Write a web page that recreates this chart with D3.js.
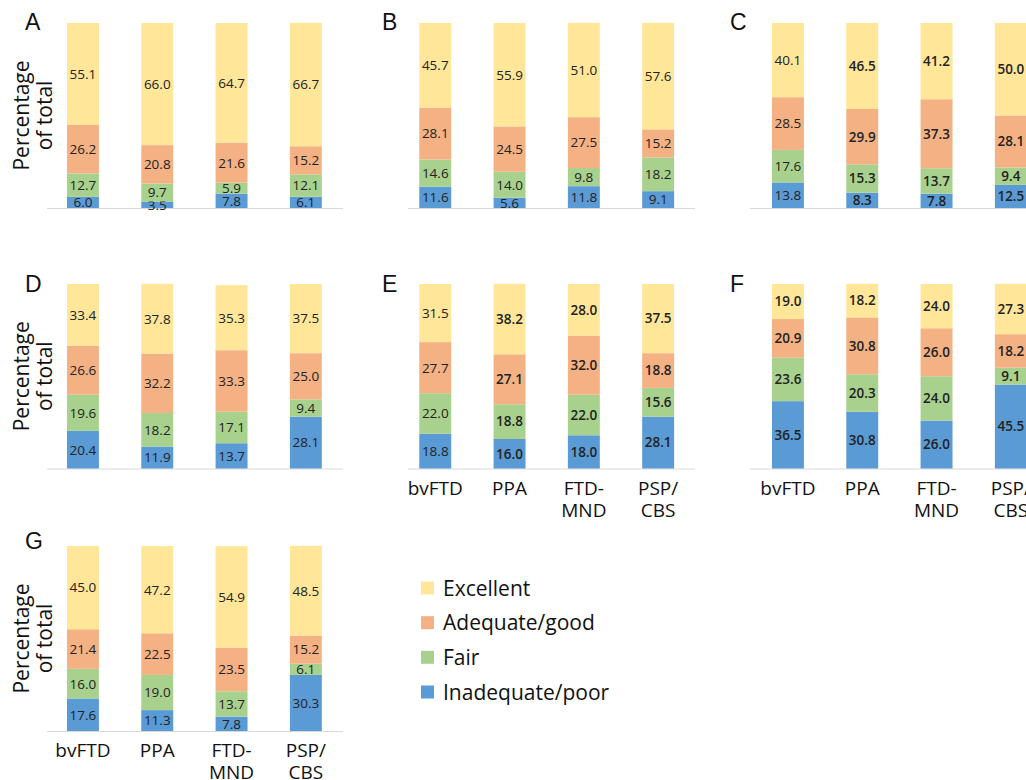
<!DOCTYPE html>
<html>
<head>
<meta charset="utf-8">
<script src="https://cdn.jsdelivr.net/npm/d3@7"></script>
<style>
  html, body { margin: 0; padding: 0; background: #fff; }
  svg { display: block; font-family: "Open Sans", sans-serif; }
</style>
</head>
<body>
<svg id="chart" width="1026" height="780"></svg>
<script>
// ---- data ----
const panels = ["A", "B", "C", "D", "E", "F", "G"];
const categories = ["bvFTD", "PPA", "FTD-MND", "PSP/CBS"];
const categoryLabelLines = [["bvFTD"], ["PPA"], ["FTD-", "MND"], ["PSP/", "CBS"]];
const seriesNames = ["Excellent", "Adequate/good", "Fair", "Inadequate/poor"];
// values per panel (A..G), per category (bvFTD, PPA, FTD-MND, PSP/CBS)
const excellent = [
  [55.1, 66.0, 64.7, 66.7],
  [45.7, 55.9, 51.0, 57.6],
  [40.1, 46.5, 41.2, 50.0],
  [33.4, 37.8, 35.3, 37.5],
  [31.5, 38.2, 28.0, 37.5],
  [19.0, 18.2, 24.0, 27.3],
  [45.0, 47.2, 54.9, 48.5]
];
const adequate = [
  [26.2, 20.8, 21.6, 15.2],
  [28.1, 24.5, 27.5, 15.2],
  [28.5, 29.9, 37.3, 28.1],
  [26.6, 32.2, 33.3, 25.0],
  [27.7, 27.1, 32.0, 18.8],
  [20.9, 30.8, 26.0, 18.2],
  [21.4, 22.5, 23.5, 15.2]
];
const fair = [
  [12.7, 9.7, 5.9, 12.1],
  [14.6, 14.0, 9.8, 18.2],
  [17.6, 15.3, 13.7, 9.4],
  [19.6, 18.2, 17.1, 9.4],
  [22.0, 18.8, 22.0, 15.6],
  [23.6, 20.3, 24.0, 9.1],
  [16.0, 19.0, 13.7, 6.1]
];
const poor = [
  [6.0, 3.5, 7.8, 6.1],
  [11.6, 5.6, 11.8, 9.1],
  [13.8, 8.3, 7.8, 12.5],
  [20.4, 11.9, 13.7, 28.1],
  [18.8, 16.0, 18.0, 28.1],
  [36.5, 30.8, 26.0, 45.5],
  [17.6, 11.3, 7.8, 30.3]
];

// ---- layout / style ----
const colors = {
  "Excellent": "#FFE699",
  "Adequate/good": "#F4B183",
  "Fair": "#A9D18E",
  "Inadequate/poor": "#5B9BD5"
};
const colRanges = [[45.8, 343], [398.1, 695.3], [750.8, 1048]];
const axisExtents = [[47, 343], [408, 695], [750, 1048]];
const rowY = [[208, 23], [468.5, 284], [731, 546]];
const letterX = [25, 382, 730];
const letterBaseline = [30, 292, 549];
const boldBars = { C: [1, 2, 3], E: [1, 2, 3], F: [0, 1, 2, 3] };
const labelPanels = ["E", "F", "G"];
const yTitlePanels = ["A", "D", "G"];

const svg = d3.select("#chart");
const stackKeys = ["Inadequate/poor", "Fair", "Adequate/good", "Excellent"];
const seriesArrays = {
  "Excellent": excellent,
  "Adequate/good": adequate,
  "Fair": fair,
  "Inadequate/poor": poor
};

panels.forEach((p, pi) => {
  const row = Math.floor(pi / 3), col = pi % 3;
  const x = d3.scaleBand().domain(categories).range(colRanges[col])
    .paddingInner(0.57).paddingOuter(0.285);
  const y = d3.scaleLinear().domain([0, 100]).range(rowY[row]);
  const g = svg.append("g");

  const rows = categories.map((c, ci) => {
    const o = { category: c, idx: ci };
    stackKeys.forEach(k => { o[k] = seriesArrays[k][pi][ci]; });
    return o;
  });
  const stacked = d3.stack().keys(stackKeys)(rows);

  // baseline axis
  g.append("line")
    .attr("x1", axisExtents[col][0]).attr("x2", axisExtents[col][1])
    .attr("y1", y(0) + 0.5).attr("y2", y(0) + 0.5)
    .attr("stroke", "#d9d9d9").attr("stroke-width", 1);

  stacked.forEach(s => {
    const sg = g.append("g").attr("fill", colors[s.key]);
    sg.selectAll("rect").data(s).join("rect")
      .attr("x", d => x(d.data.category))
      .attr("width", x.bandwidth())
      .attr("y", d => y(d[1]))
      .attr("height", d => y(d[0]) - y(d[1]));
    g.append("g").selectAll("text").data(s).join("text")
      .attr("x", d => x(d.data.category) + x.bandwidth() / 2)
      .attr("y", d => (y(d[0]) + y(d[1])) / 2)
      .attr("dy", "0.36em")
      .attr("text-anchor", "middle")
      .attr("font-size", 13.5)
      .attr("fill", "#222")
      .attr("font-weight", d => (boldBars[p] && boldBars[p].includes(d.data.idx)) ? 600 : 400)
      .text(d => (d[1] - d[0]).toFixed(1));
  });

  // panel letter
  g.append("text")
    .attr("x", letterX[col]).attr("y", letterBaseline[row])
    .attr("font-family", "Liberation Sans, Arial, sans-serif")
    .attr("font-size", 23).attr("fill", "#111")
    .text(p);

  // x axis labels
  if (labelPanels.includes(p)) {
    const xa = g.append("g")
      .attr("transform", `translate(0,${y(0)})`)
      .call(d3.axisBottom(x).tickSize(0).tickFormat(""));
    xa.select(".domain").remove();
    xa.selectAll(".tick").each(function (c, i) {
      const t = d3.select(this).append("text")
        .attr("text-anchor", "middle")
        .attr("font-size", 19)
        .attr("fill", "#111")
        .attr("font-family", "Open Sans, sans-serif");
      categoryLabelLines[i].forEach((line, li) => {
        t.append("tspan").attr("x", 0).attr("y", 26 + li * 22).text(line);
      });
    });
  }

  // y title
  if (yTitlePanels.includes(p)) {
    const cy = (rowY[row][0] + rowY[row][1]) / 2;
    const t = g.append("text")
      .attr("transform", `translate(0,${cy}) rotate(-90)`)
      .attr("text-anchor", "middle")
      .attr("font-size", 21)
      .attr("fill", "#111");
    t.append("tspan").attr("x", 0).attr("y", 28.5).text("Percentage");
    t.append("tspan").attr("x", 0).attr("y", 52).text("of total");
  }
});

// legend
const legend = svg.append("g");
const legendY = d3.scalePoint().domain(seriesNames).range([588, 692]);
seriesNames.forEach(n => {
  legend.append("rect")
    .attr("x", 421).attr("y", legendY(n) - 6.5)
    .attr("width", 13).attr("height", 13)
    .attr("fill", colors[n]);
  legend.append("text")
    .attr("x", 443).attr("y", legendY(n))
    .attr("dy", "0.36em")
    .attr("font-size", 21).attr("fill", "#111")
    .text(n);
});
</script>
</body>
</html>
